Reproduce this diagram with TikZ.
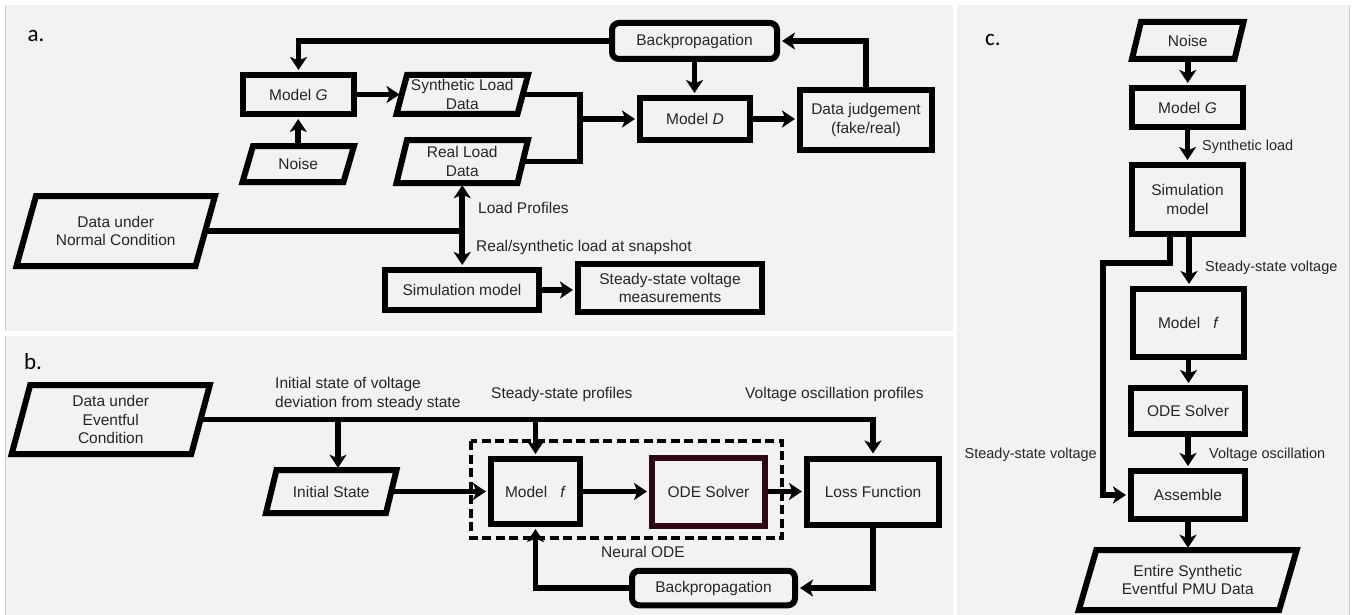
\documentclass[tikz,border=0pt]{standalone}
\usepackage{fontspec}
\setmainfont{Liberation Sans}
\newfontfamily\plabfont{Carlito}
\usetikzlibrary{arrows.meta,calc}
\definecolor{panelbg}{RGB}{242,242,242}
\definecolor{textc}{RGB}{38,38,38}
\definecolor{odec}{RGB}{45,8,18}
\definecolor{edgec}{RGB}{205,205,205}
% parallelogram: name, cx, cy, half width, half height, half slant, text
\newcommand\pgram[7]{%
  \node[txt, minimum width={2*#4pt}, minimum height={2*#5pt}] (#1) at (#2,#3) {#7};
  \draw[pline] (#2-#4+#6,#3-#5) -- (#2+#4+#6,#3-#5) -- (#2+#4-#6,#3+#5) -- (#2-#4-#6,#3+#5) -- cycle;
}
\begin{document}
\begin{tikzpicture}[x=1pt,y=-1pt,
  txt/.style={font=\fontsize{15.5}{18.5}\selectfont, text=textc, align=center, inner sep=0pt},
  box/.style={txt, draw=black, line width=6pt, rectangle},
  rbox/.style={box, rounded corners=7pt},
  pline/.style={draw=black, line width=6pt, line join=miter},
  conn/.style={line width=5.6pt, draw=black},
  tip/.style={},
  arr/.style={conn, -{Stealth[length=13pt,width=17pt,inset=3.5pt]}, shorten >=2pt},
  darr/.style={conn, {Stealth[length=13pt,width=17pt,inset=3.5pt]}-{Stealth[length=13pt,width=17pt,inset=3.5pt]}, shorten >=2pt, shorten <=2pt},
  lbl/.style={font=\fontsize{15.5}{18.5}\selectfont, text=textc, inner sep=0pt, align=left},
  clbl/.style={lbl, font=\fontsize{14.5}{17}\selectfont},
  plab/.style={font=\plabfont\fontsize{23}{26}\selectfont, text=black, inner sep=0pt},
  panel/.style={fill=panelbg, draw=none}
]
\useasboundingbox (0,0) rectangle (1367,615);
\fill[white] (0,0) rectangle (1367,615);
% panels
\path[panel] (5,5) rectangle (953,331);
\path[panel] (5,336) rectangle (953,615);
\path[panel] (957,5) rectangle (1350,615);
\draw[edgec, line width=1pt] (5.5,5) -- (5.5,331);
\draw[edgec, line width=1pt] (5.5,336) -- (5.5,615);
\draw[edgec, line width=1pt] (1349.5,5) -- (1349.5,615);

\node[plab] (la) at (36,36) {a.};
\node[plab] (lb) at (33,362) {b.};
\node[plab] (lc) at (993,40) {c.};

% ---------------- panel a ----------------
\node[box, minimum width=111pt, minimum height=39pt] (mga) at (298.5,94.5) {Model \textit{G}};
\node[box, minimum width=110pt, minimum height=42pt] (mda) at (695,119) {Model \textit{D}};
\node[box, minimum width=132pt, minimum height=60pt] (dj) at (866,120) {Data judgement\\(fake/real)};
\node[rbox, minimum width=165pt, minimum height=36pt] (bpa) at (694.5,41) {Backpropagation};
\node[box, minimum width=154pt, minimum height=40pt] (sima) at (462,290) {Simulation model};
\node[box, minimum width=184pt, minimum height=48pt] (ssm) at (670,288) {Steady-state voltage\\measurements};
\pgram{syn}{462.25}{94.5}{60.5}{19.5}{5.25}{Synthetic Load\\Data}
\pgram{real}{462.25}{161.5}{60.5}{21.5}{5.25}{Real Load\\Data}
\pgram{noisea}{298.25}{164}{50.5}{18}{5.25}{Noise}
\pgram{dnorm}{115.75}{231}{89.5}{35}{9.75}{Data under\\Normal Condition}

\draw[arr] (bpa.west) -| (mga.north);
\draw[arr] (dj.north) |- (bpa.east);
\draw[arr] (bpa.south) -- (bpa.south |- mda.north);
\draw[arr] (mga.east) -- (syn.west);
\draw[arr] (noisea.north) -- (noisea.north |- mga.south);
\coordinate (ja) at (580,119);
\draw[conn] (syn.east) -| (ja) |- (real.east);
\draw[arr] (ja) -- (mda.west);
\draw[arr] (mda.east) -- (mda.east -| dj.west);
\draw[darr] (real.south) -- (real.south |- sima.north);
\draw[conn] (dnorm.east) -- (dnorm.east -| real.south);
\draw[arr] (sima.east) -- (sima.east -| ssm.west);
\node[lbl, anchor=west] (lp) at (478,208) {Load Profiles};
\node[lbl, anchor=west] (lrs) at (476,247) {Real/synthetic load at snapshot};

% ---------------- panel b ----------------
\pgram{devent}{110.75}{419.5}{89.8}{34.5}{9.25}{Data under\\Eventful\\Condition}
\pgram{init}{331.25}{491.5}{60}{21.5}{5.25}{Initial State}
\node[box, minimum width=89pt, minimum height=65pt] (mf) at (535.5,491.5) {Model\hspace{13pt}\textit{f}};
\node[box, draw=odec, minimum width=113pt, minimum height=68pt] (ode) at (708.5,491.5) {ODE Solver};
\node[box, minimum width=132pt, minimum height=66pt] (loss) at (873,491.5) {Loss Function};
\node[rbox, minimum width=163pt, minimum height=34.5pt] (bpb) at (713.5,588) {Backpropagation};
\draw[black, line width=3.4pt, dash pattern=on 9pt off 4.5pt] (471,441) rectangle (782,538);
\node[txt] (nodel) at (643,552) {Neural ODE};

\coordinate (jb) at (338,419.5);
\draw[arr] (devent.east) -| (loss.north);
\draw[arr] (jb) -- (jb |- init.north);
\draw[arr] (devent.east -| mf.north) -- (mf.north);
\draw[arr] (init.east) -- (mf.west);
\draw[arr] (mf.east) -- (ode.west);
\draw[arr] (ode.east) -- (loss.west);
\draw[arr] (loss.south) |- (bpb.east);
\draw[arr] (bpb.west) -| (mf.south);
\node[lbl, anchor=west] (lis) at (275,394) {Initial state of voltage\\deviation from steady state};
\node[lbl, anchor=west] (lssp) at (491,394) {Steady-state profiles};
\node[lbl, anchor=west] (lvop) at (745,394) {Voltage oscillation profiles};

% ---------------- panel c ----------------
\pgram{cnoise}{1187.75}{40.5}{51.3}{18.5}{4.5}{Noise}
\node[box, minimum width=111pt, minimum height=39pt] (cmg) at (1187.5,107.5) {Model \textit{G}};
\node[box, minimum width=111pt, minimum height=69pt] (csim) at (1187.5,199.5) {Simulation\\model};
\node[box, minimum width=111pt, minimum height=68pt] (cmf) at (1188.5,323) {Model\hspace{13pt}\textit{f}};
\node[box, minimum width=114pt, minimum height=46pt] (code) at (1188,411) {ODE Solver};
\node[box, minimum width=114pt, minimum height=48pt] (cas) at (1188,495) {Assemble};
\pgram{entire}{1187.75}{580}{100.2}{30}{8.75}{Entire Synthetic\\Eventful PMU Data}

\draw[arr] (cnoise.south) -- (cnoise.south |- cmg.north);
\draw[arr] (cmg.south) -- (cmg.south |- csim.north);
\draw[arr] ([xshift=1.5pt]csim.south) -- ([xshift=1.5pt]csim.south |- cmf.north);
\draw[arr] (cmf.south) -- (cmf.south |- code.north);
\draw[arr] (code.south) -- (code.south |- cas.north);
\draw[arr] (cas.south) -- (cas.south |- entire.north);
\coordinate (jc) at (1103,263);
\draw[arr] ([xshift=-17.5pt]csim.south) |- (jc) |- (cas.west);
\node[clbl, anchor=west] (lsl) at (1202,147) {Synthetic load};
\node[clbl, anchor=west] (lssv) at (1205,268) {Steady-state voltage};
\node[clbl, anchor=west] (lvo) at (1209,455) {Voltage oscillation};
\node[clbl, anchor=east] (lssv2) at (1097,455) {Steady-state voltage};
\end{tikzpicture}
\end{document}
